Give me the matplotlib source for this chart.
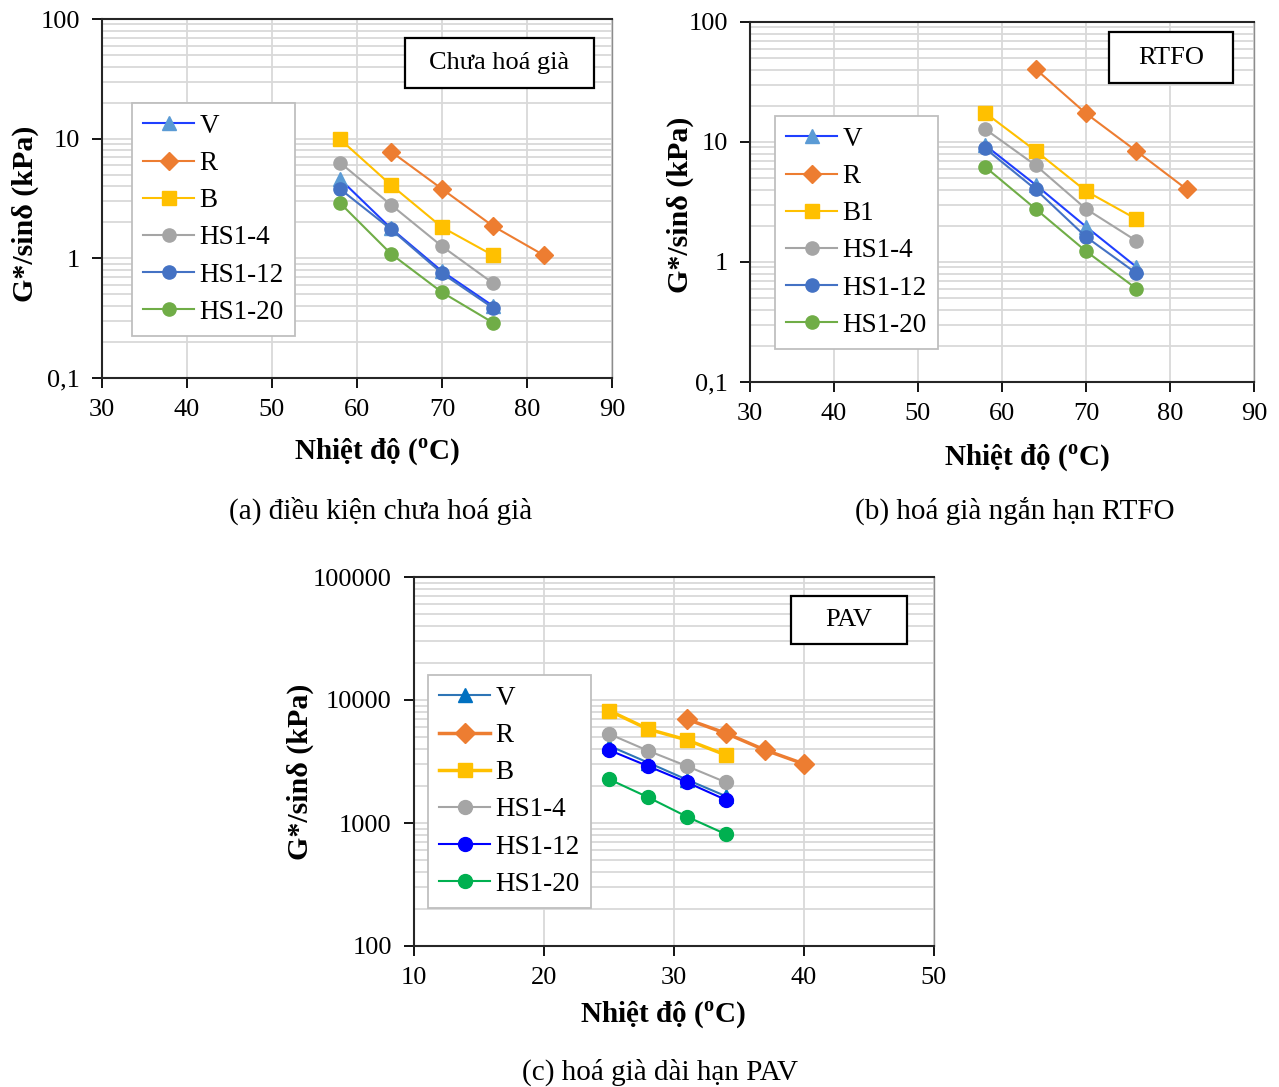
import numpy as np
import matplotlib.pyplot as plt
from matplotlib.ticker import LogLocator, NullFormatter, FuncFormatter, MultipleLocator
from matplotlib.patches import Rectangle

plt.rcParams['font.family'] = ['Liberation Serif', 'DejaVu Serif']
plt.rcParams['mathtext.fontset'] = 'custom'
plt.rcParams['mathtext.rm'] = 'Liberation Serif'
plt.rcParams['mathtext.bf'] = 'Liberation Serif:bold'

W, H = 1279, 1087

# --- data ---
temp_ab = [58, 64, 70, 76]
temp_ab_r = [64, 70, 76, 82]
a_V = [4.6, 1.78, 0.78, 0.40]
a_R = [7.8, 3.8, 1.86, 1.06]
a_B = [9.9, 4.1, 1.82, 1.06]
a_HS4 = [6.3, 2.8, 1.26, 0.62]
a_HS12 = [3.8, 1.75, 0.75, 0.385]
a_HS20 = [2.9, 1.09, 0.52, 0.29]

b_V = [9.4, 4.4, 1.97, 0.91]
b_R = [40.6, 17.3, 8.4, 4.03]
b_B1 = [17.5, 8.45, 3.9, 2.28]
b_HS4 = [12.8, 6.4, 2.77, 1.5]
b_HS12 = [8.85, 4.03, 1.62, 0.805]
b_HS20 = [6.2, 2.77, 1.23, 0.6]

temp_c = [25, 28, 31, 34]
temp_c_r = [31, 34, 37, 40]
c_V = [4250, 3100, 2250, 1650]
c_R = [6970, 5360, 3920, 3020]
c_B = [8200, 5800, 4730, 3570]
c_HS4 = [5300, 3870, 2900, 2140]
c_HS12 = [3920, 2900, 2140, 1540]
c_HS20 = [2270, 1620, 1125, 810]

TICK_FS = 19
LEG_FS = 19.5
BOX_FS = 19
YLAB_FS = 21.5
XLAB_FS = 21
CAP_FS = 21


def px_axes(fig, left, top, right, bottom):
    return fig.add_axes([left / W, 1 - bottom / H, (right - left) / W, (bottom - top) / H])


def fmt(v, pos):
    return f'{v:.10g}'.replace('.', ',')


def style_axes(ax, xlim, ylim, xstep):
    ax.set_yscale('log')
    ax.set_xlim(*xlim)
    ax.set_ylim(*ylim)
    ax.xaxis.set_major_locator(MultipleLocator(xstep))
    ax.yaxis.set_major_locator(LogLocator(base=10))
    ax.yaxis.set_minor_locator(LogLocator(base=10, subs=range(2, 10)))
    ax.yaxis.set_major_formatter(FuncFormatter(fmt))
    ax.yaxis.set_minor_formatter(NullFormatter())
    ax.grid(which='major', axis='both', color='#d9d9d9', lw=1.3)
    ax.grid(which='minor', axis='y', color='#d9d9d9', lw=1.3)
    ax.set_axisbelow(True)
    ax.tick_params(which='major', direction='out', length=7, width=1.3,
                   labelsize=TICK_FS, color='black')
    ax.tick_params(axis='y', which='major', pad=9)
    ax.tick_params(axis='x', which='major', pad=8)
    ax.tick_params(which='minor', length=0)
    for s in ['left', 'bottom', 'top']:
        ax.spines[s].set_color('#262626')
        ax.spines[s].set_linewidth(1.5)
    ax.spines['right'].set_color('#8c8c8c')
    ax.spines['right'].set_linewidth(1.0)


def draw_series(ax, series):
    for label, x, y, lc, mk, mc, ms, lw in series:
        ax.plot(x, y, color=lc, lw=lw, marker=mk, ms=ms, mfc=mc, mec=mc,
                label=label)


def add_box(ax, text, x0, y0, x1, y1, pos):
    # x0..y1 in pixel coords of the figure, pos = axes pixel box
    l, t, r, b = pos
    ax.add_patch(Rectangle(((x0 - l) / (r - l), (b - y1) / (b - t)),
                           (x1 - x0) / (r - l), (y1 - y0) / (b - t),
                           transform=ax.transAxes, fc='white', ec='black',
                           lw=1.6, zorder=5))
    ax.text(((x0 + x1) / 2 - l) / (r - l), (b - (y0 + y1) / 2) / (b - t), text,
            transform=ax.transAxes, ha='center', va='center', fontsize=BOX_FS,
            zorder=6)


def add_legend(ax, x0, y0, pos):
    l, t, r, b = pos
    leg = ax.legend(loc='upper left',
                    bbox_to_anchor=((x0 - l) / (r - l), (b - y0) / (b - t)),
                    borderaxespad=0, fancybox=False, framealpha=1,
                    edgecolor='#bfbfbf', fontsize=LEG_FS, handlelength=1.9,
                    handletextpad=0.2, labelspacing=0.45, borderpad=0.4)
    leg.get_frame().set_linewidth(1.3)


def labels(ax, pos, ylab_xy, xlab_xy):
    l, t, r, b = pos
    ax.set_ylabel('G*/sinδ (kPa)', fontsize=YLAB_FS, fontweight='bold')
    ax.yaxis.set_label_coords((ylab_xy[0] - l) / (r - l), (b - ylab_xy[1]) / (b - t))
    ax.set_xlabel(r'Nhiệt độ ($^{\mathbf{o}}$C)', fontsize=XLAB_FS, fontweight='bold')
    ax.xaxis.set_label_coords((xlab_xy[0] - l) / (r - l), (b - xlab_xy[1]) / (b - t))


fig = plt.figure(figsize=(W / 100, H / 100), dpi=100)

# ---------------- (a) ----------------
pos_a = (102, 19, 612, 378)
ax = px_axes(fig, *pos_a)
style_axes(ax, (30, 90), (0.1, 100), 10)
draw_series(ax, [
    ('V', temp_ab, a_V, '#1f3fff', '^', '#5b9bd5', 10.5, 1.5),
    ('R', temp_ab_r, a_R, '#ed7d31', 'D', '#ed7d31', 9.5, 1.5),
    ('B', temp_ab, a_B, '#ffc000', 's', '#ffc000', 9.5, 1.5),
    ('HS1-4', temp_ab, a_HS4, '#a5a5a5', 'o', '#a5a5a5', 9.5, 1.5),
    ('HS1-12', temp_ab, a_HS12, '#4472c4', 'o', '#4472c4', 9.5, 1.5),
    ('HS1-20', temp_ab, a_HS20, '#70ad47', 'o', '#70ad47', 9.5, 1.5),
])
add_legend(ax, 132, 103, pos_a)
add_box(ax, 'Chưa hoá già', 405, 38, 594, 88, pos_a)
labels(ax, pos_a, (39, 214), (377, 437))

# ---------------- (b) ----------------
pos_b = (750, 22, 1254, 382)
ax = px_axes(fig, *pos_b)
style_axes(ax, (30, 90), (0.1, 100), 10)
draw_series(ax, [
    ('V', temp_ab, b_V, '#1f3fff', '^', '#5b9bd5', 10.5, 1.5),
    ('R', temp_ab_r, b_R, '#ed7d31', 'D', '#ed7d31', 9.5, 1.5),
    ('B1', temp_ab, b_B1, '#ffc000', 's', '#ffc000', 9.5, 1.5),
    ('HS1-4', temp_ab, b_HS4, '#a5a5a5', 'o', '#a5a5a5', 9.5, 1.5),
    ('HS1-12', temp_ab, b_HS12, '#4472c4', 'o', '#4472c4', 9.5, 1.5),
    ('HS1-20', temp_ab, b_HS20, '#70ad47', 'o', '#70ad47', 9.5, 1.5),
])
add_legend(ax, 775, 116, pos_b)
add_box(ax, 'RTFO', 1109, 32, 1233, 83, pos_b)
labels(ax, pos_b, (694, 205), (1027, 443))

# ---------------- (c) ----------------
pos_c = (414, 577, 934, 946)
ax = px_axes(fig, *pos_c)
style_axes(ax, (10, 50), (100, 100000), 10)
draw_series(ax, [
    ('V', temp_c, c_V, '#2e75b6', '^', '#0070c0', 10.5, 1.5),
    ('R', temp_c_r, c_R, '#ed7d31', 'D', '#ed7d31', 10, 2.5),
    ('B', temp_c, c_B, '#ffc000', 's', '#ffc000', 10, 2.5),
    ('HS1-4', temp_c, c_HS4, '#a5a5a5', 'o', '#a5a5a5', 10, 1.5),
    ('HS1-12', temp_c, c_HS12, '#0000ff', 'o', '#0000ff', 10, 1.5),
    ('HS1-20', temp_c, c_HS20, '#00b050', 'o', '#00b050', 10, 1.5),
])
add_legend(ax, 428, 675, pos_c)
add_box(ax, 'PAV', 791, 596, 907, 644, pos_c)
labels(ax, pos_c, (314, 772), (663, 1000))

# captions
fig.text(381 / W, 1 - 511 / H, '(a) điều kiện chưa hoá già', ha='center', va='center', fontsize=CAP_FS)
fig.text(1015 / W, 1 - 511 / H, '(b) hoá già ngắn hạn RTFO', ha='center', va='center', fontsize=CAP_FS)
fig.text(660 / W, 1 - 1072 / H, '(c) hoá già dài hạn PAV', ha='center', va='center', fontsize=CAP_FS)

fig.savefig('out.png', dpi=100)
